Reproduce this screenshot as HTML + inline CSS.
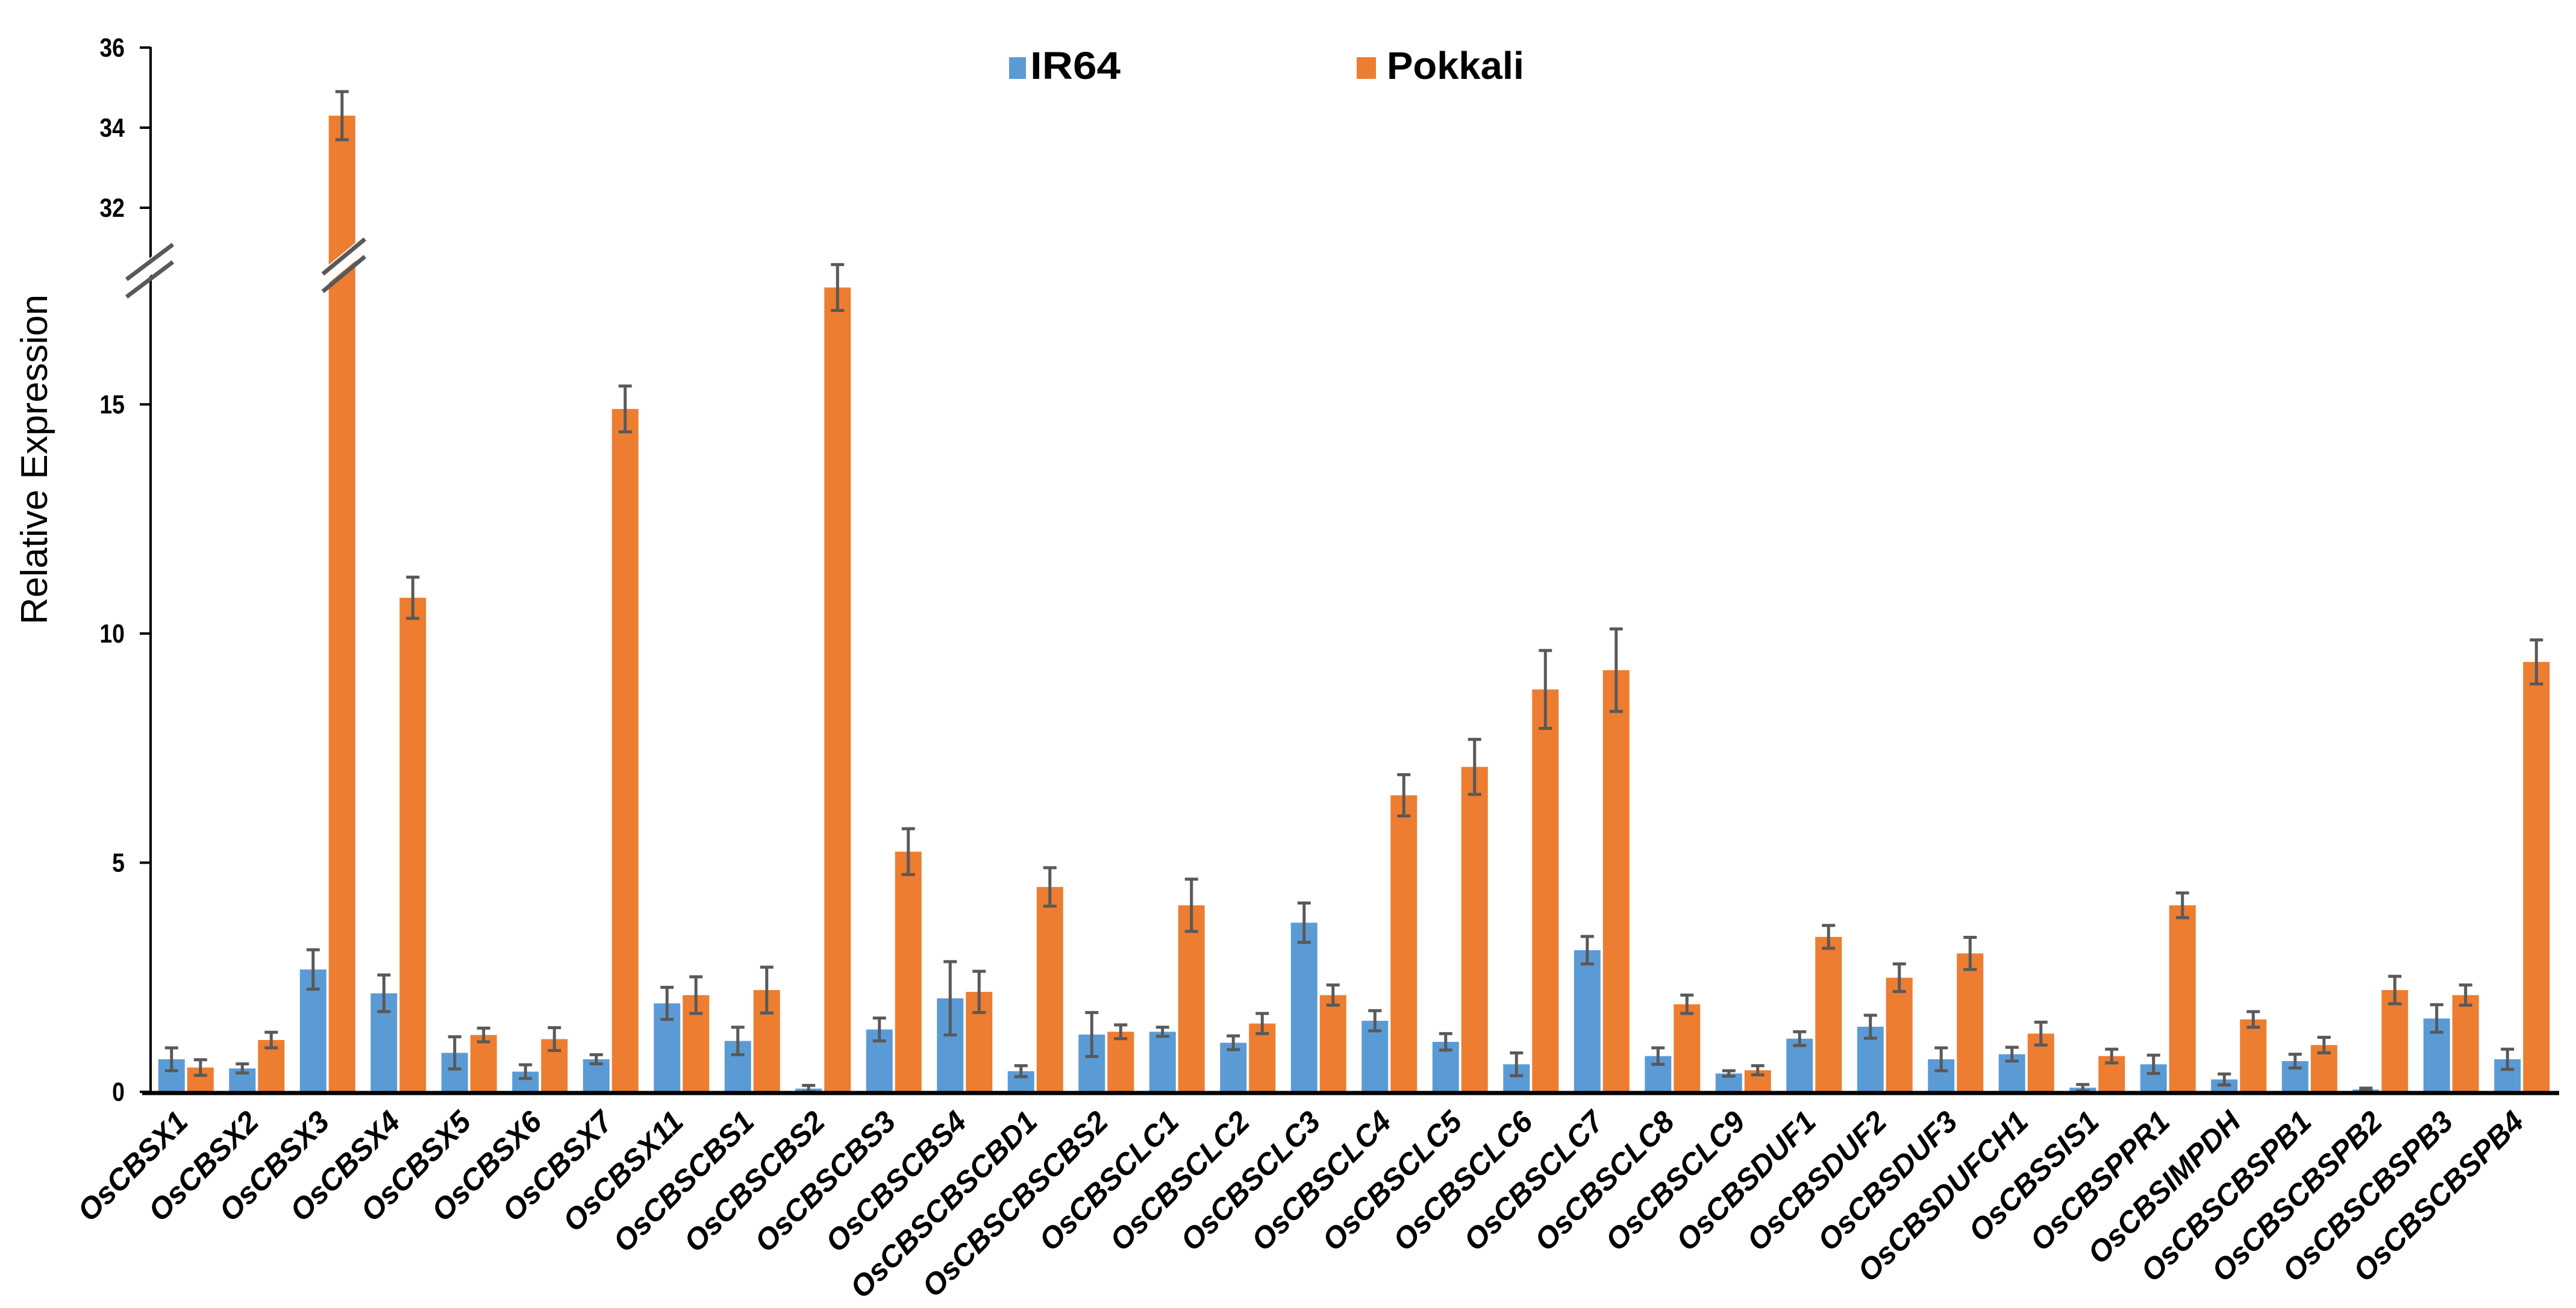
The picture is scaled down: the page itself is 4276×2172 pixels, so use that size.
<!DOCTYPE html>
<html><head><meta charset="utf-8">
<style>
html,body{margin:0;padding:0;background:#fff;}
svg{display:block;}
text{font-family:"Liberation Sans",sans-serif;}
</style></head>
<body>
<svg id="chart" width="4276" height="2172" viewBox="0 0 4276 2172" xmlns="http://www.w3.org/2000/svg">
<text x="0" y="0" transform="translate(78,763) rotate(-90)" text-anchor="middle" font-size="62" fill="#000">Relative Expression</text>
<g>
  <rect x="1675" y="95" width="28" height="36" fill="#5B9BD5"/>
  <text x="1710" y="131" font-size="64" font-weight="bold" fill="#000" textLength="150" lengthAdjust="spacingAndGlyphs">IR64</text>
  <rect x="2252" y="95" width="32" height="36" fill="#ED7D31"/>
  <text x="2302" y="131" font-size="64" font-weight="bold" fill="#000" textLength="228" lengthAdjust="spacingAndGlyphs">Pokkali</text>
</g>
<g id="plot"></g>
</svg>
<script>
const categories = ["OsCBSX1","OsCBSX2","OsCBSX3","OsCBSX4","OsCBSX5","OsCBSX6","OsCBSX7","OsCBSX11","OsCBSCBS1","OsCBSCBS2","OsCBSCBS3","OsCBSCBS4","OsCBSCBSCBD1","OsCBSCBSCBS2","OsCBSCLC1","OsCBSCLC2","OsCBSCLC3","OsCBSCLC4","OsCBSCLC5","OsCBSCLC6","OsCBSCLC7","OsCBSCLC8","OsCBSCLC9","OsCBSDUF1","OsCBSDUF2","OsCBSDUF3","OsCBSDUFCH1","OsCBSSIS1","OsCBSPPR1","OsCBSIMPDH","OsCBSCBSPB1","OsCBSCBSPB2","OsCBSCBSPB3","OsCBSCBSPB4"];
const ir64 = [0.71,0.51,2.67,2.15,0.85,0.44,0.71,1.93,1.11,0.07,1.36,2.04,0.45,1.25,1.31,1.07,3.69,1.55,1.09,0.6,3.09,0.78,0.4,1.16,1.42,0.71,0.82,0.09,0.6,0.27,0.67,0.05,1.6,0.71];
const ir64Err = [0.25,0.1,0.43,0.4,0.35,0.15,0.1,0.35,0.3,0.07,0.25,0.8,0.12,0.48,0.1,0.15,0.43,0.22,0.18,0.25,0.3,0.18,0.06,0.15,0.25,0.25,0.15,0.07,0.2,0.12,0.15,0.03,0.3,0.22];
const pokkali = [0.53,1.13,34.3,10.78,1.24,1.15,14.9,2.11,2.22,17.55,5.24,2.18,4.47,1.31,4.07,1.49,2.11,6.47,7.09,8.78,9.2,1.91,0.47,3.38,2.49,3.02,1.27,0.78,4.07,1.58,1.02,2.22,2.11,9.38];
const pokkaliErr = [0.17,0.17,0.6,0.45,0.15,0.25,0.5,0.4,0.5,0.5,0.5,0.45,0.42,0.15,0.57,0.22,0.22,0.45,0.6,0.85,0.9,0.2,0.1,0.25,0.3,0.35,0.25,0.15,0.27,0.17,0.17,0.3,0.22,0.48];
const lowerTicks = [0,5,10,15];
const upperTicks = [32,34,36];

const NS = "http://www.w3.org/2000/svg";
const plot = document.getElementById('plot');
const X0 = 250, GW = 117.5, BW = 44;
const Y0 = 1813, LPU = 76.1, BREAK_LOW = 18.3, BREAK_HIGH = 30.5;
function y(v){
  if (v <= BREAK_LOW) return Y0 - v*LPU;
  if (v >= BREAK_HIGH) return 345 - (v-32)*66.5;
  return 445;
}
function gx(i){ return X0 + GW*(i+0.5); }
function mk(tag, attrs, parent){
  const e = document.createElementNS(NS, tag);
  for (const k in attrs) e.setAttribute(k, attrs[k]);
  (parent||plot).appendChild(e);
  return e;
}
const series = [[ir64, ir64Err, '#5B9BD5', -46, 'ir64'], [pokkali, pokkaliErr, '#ED7D31', 2, 'pokkali']];
series.forEach(s => {
  const vals = s[0], errs = s[1];
  vals.forEach((v, i) => {
    const bx = gx(i) + s[3];
    const r = mk('rect', {x: bx, y: y(v), width: BW, height: Y0 - y(v), fill: s[2]});
    
    
    const cx = bx + BW/2;
    const g = mk('g', {stroke: '#595959', 'stroke-width': 5, fill: 'none'});
    
    
    const t = y(v + errs[i]), b = y(Math.max(0, v - errs[i]));
    mk('line', {x1: cx, x2: cx, y1: t, y2: b}, g);
    mk('line', {x1: cx-11, x2: cx+11, y1: t, y2: t}, g);
    mk('line', {x1: cx-11, x2: cx+11, y1: b, y2: b}, g);
  });
});
pokkali.forEach((v, i) => {
  if (v > BREAK_LOW) {
    const cx = gx(i) + 2 + BW/2;
    const g = mk('g', {});
    
    
    mk('polygon', {points: `${cx-32},${448} ${cx+38},${390} ${cx+38},${420} ${cx-32},${478}`, fill: '#fff'}, g);
    mk('line', {x1: cx-32, y1: 455, x2: cx+38, y2: 397, stroke: '#595959', 'stroke-width': 7}, g);
    mk('line', {x1: cx-32, y1: 484, x2: cx+38, y2: 426, stroke: '#595959', 'stroke-width': 7}, g);
  }
});
const ya = mk('g', {});


mk('line', {x1: X0, x2: X0, y1: 78, y2: 1816, stroke: '#000', 'stroke-width': 4}, ya);
const ab = mk('g', {});


mk('polygon', {points: '214,458 282,400 282,430 214,488', fill: '#fff'}, ab);
mk('line', {x1: 210, y1: 464, x2: 287, y2: 406, stroke: '#595959', 'stroke-width': 7}, ab);
mk('line', {x1: 210, y1: 493, x2: 287, y2: 435, stroke: '#595959', 'stroke-width': 7}, ab);
lowerTicks.concat(upperTicks).forEach(t => {
  const ty = y(t);
  mk('line', {x1: X0-18, x2: X0, y1: ty, y2: ty, stroke: '#000', 'stroke-width': 4}, ya);
  const tx = mk('text', {x: 207, y: ty + 15, 'text-anchor': 'end', 'font-size': 44, 'font-weight': 'bold', fill: '#000', transform: `translate(207,0) scale(0.85,1) translate(-207,0)`}, ya);
  
  
  tx.textContent = t;
});
const xa = mk('line', {x1: 236, x2: 4248, y1: 1815, y2: 1815, stroke: '#000', 'stroke-width': 7});


categories.forEach((c, i) => {
  const cx = gx(i) + 6, cy = 1866;
  const t = mk('text', {x: cx, y: cy, 'text-anchor': 'end', 'font-size': 50, 'font-weight': 'bold', 'font-style': 'italic', fill: '#000', transform: `rotate(-45 ${cx} ${cy})`});
  
  
  t.textContent = c;
});
</script>
</body></html>
